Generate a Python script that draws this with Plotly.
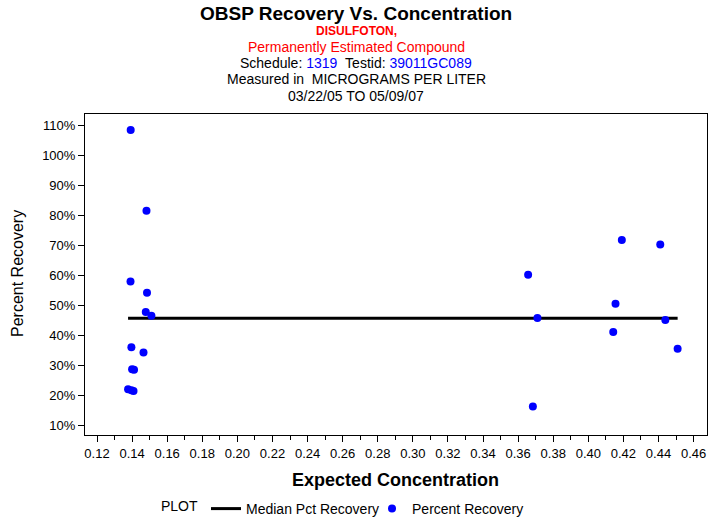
import plotly.graph_objects as go

# Data
conc = [0.1392, 0.1482, 0.1391, 0.1485, 0.1478, 0.1510, 0.1396, 0.1465, 0.1400, 0.1411,
        0.1377, 0.1396, 0.1408,
        0.3657, 0.3710, 0.3684, 0.4155, 0.4142, 0.4439, 0.4509, 0.4191, 0.4410]
recovery = [108.3, 81.4, 57.8, 54.1, 47.7, 46.4, 35.9, 34.2, 28.6, 28.4,
            21.9, 21.6, 21.3,
            60.1, 45.7, 16.2, 50.4, 41.0, 45.0, 35.4, 71.7, 70.2]
median_pct = 45.6

x_ticks = [round(0.12 + 0.02 * i, 2) for i in range(18)]
x_tick_labels = ["%.2f" % v for v in x_ticks]
y_ticks = list(range(10, 111, 10))
y_tick_labels = ["%d%%" % v for v in y_ticks]

FONT = "Arial, Liberation Sans, sans-serif"

fig = go.Figure()
fig.add_trace(go.Scatter(
    x=[min(conc), max(conc)], y=[median_pct, median_pct],
    mode="lines", line=dict(color="black", width=3),
    name="Median Pct Recovery"))
fig.add_trace(go.Scatter(
    x=conc, y=recovery, mode="markers",
    marker=dict(color="#0000FF", size=8, symbol="circle"),
    name="Percent Recovery"))

L, R, T, B = 85, 6, 114, 88
W, H = 713, 523
pw, ph = W - L - R, H - T - B

def py(ypx):
    return 1 - (ypx - T) / ph

def px(xpx):
    return (xpx - L) / pw

annotations = [
    dict(text="<b>OBSP Recovery Vs. Concentration</b>", x=px(356), y=py(13), font=dict(size=19, color="black")),
    dict(text="<b>DISULFOTON,</b>", x=px(356), y=py(31), font=dict(size=12, color="#FF0000")),
    dict(text="Permanently Estimated Compound", x=px(356), y=py(47), font=dict(size=14, color="#FF0000")),
    dict(text="Schedule: <span style='color:#0000FF'>1319</span>&nbsp;&nbsp;Testid: <span style='color:#0000FF'>39011GC089</span>",
         x=px(356), y=py(63), font=dict(size=14, color="black")),
    dict(text="Measured in&nbsp;&nbsp;MICROGRAMS PER LITER", x=px(356), y=py(79), font=dict(size=14, color="black")),
    dict(text="03/22/05 TO 05/09/07", x=px(356), y=py(96), font=dict(size=14, color="black")),
    dict(text="<b>Expected Concentration</b>", x=px(395), y=py(480), font=dict(size=18, color="black")),
    dict(text="Percent Recovery", x=px(17), y=py(274), textangle=-90, font=dict(size=16, color="black")),
]
for a in annotations:
    a.update(xref="paper", yref="paper", showarrow=False, xanchor="center", yanchor="middle")
    a["font"]["family"] = FONT

fig.update_layout(
    width=W, height=H,
    margin=dict(l=L, r=R, t=T, b=B, pad=0, autoexpand=False),
    paper_bgcolor="white", plot_bgcolor="white",
    font=dict(family=FONT, size=13, color="black"),
    annotations=annotations,
    showlegend=True,
    legend=dict(orientation="h", xref="container", yref="container",
                x=159 / W, y=1 - 509 / H, xanchor="left", yanchor="middle",
                title=dict(text="PLOT", side="left", font=dict(size=14)),
                font=dict(size=14), itemwidth=30, entrywidth=121, entrywidthmode="pixels",
                tracegroupgap=0, itemclick=False, bgcolor="rgba(0,0,0,0)"),
)
fig.update_xaxes(
    range=[0.11316, 0.46764], tickvals=x_ticks, ticktext=x_tick_labels, automargin=False,
    showgrid=False, zeroline=False, showline=True, linecolor="black", linewidth=1, mirror=True,
    ticks="outside", ticklen=6, tickcolor="black", tickfont=dict(size=13),
    minor=dict(dtick=0.01, tick0=0.11, ticks="outside", ticklen=4, tickcolor="black", showgrid=False),
)
fig.update_yaxes(
    range=[6.67, 113.67], tickvals=y_ticks, ticktext=y_tick_labels, automargin=False,
    showgrid=False, zeroline=False, showline=True, linecolor="black", linewidth=1, mirror=True,
    ticks="outside", ticklen=6, tickcolor="black", tickfont=dict(size=13),
)

fig.write_html("out.html", config={"displayModeBar": False},
               post_script="document.body.style.margin='0';document.body.style.overflow='hidden';")
